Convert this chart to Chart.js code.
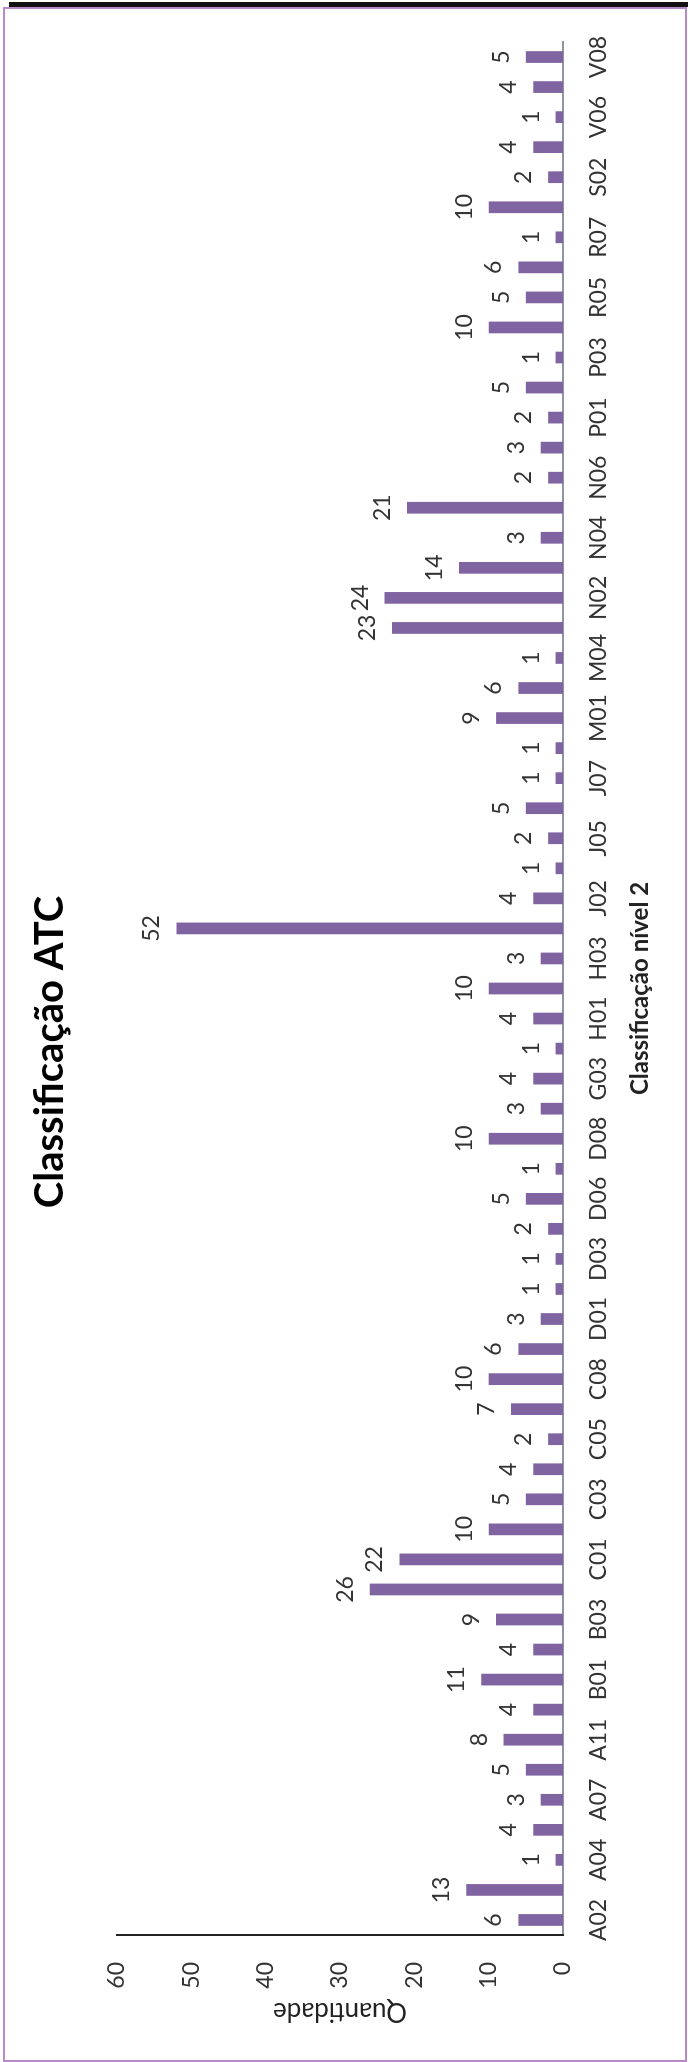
<!DOCTYPE html>
<html>
<head>
<meta charset="utf-8">
<script src="https://cdn.jsdelivr.net/npm/chart.js@4.4.1/dist/chart.umd.min.js"></script>
<style>
  html, body { margin: 0; padding: 0; background: #fff; }
  body { width: 688px; height: 2062px; position: relative; overflow: hidden; }
  #rot { position: absolute; left: 0; top: 0; width: 2062px; height: 688px;
         transform-origin: 0 0; transform: translate(0px, 2062px) rotate(-90deg); }
  #frame { position: absolute; left: 3px; top: 7px; width: 680px; height: 2051px;
           border: 2px solid #b98ac9; box-sizing: content-box; pointer-events: none; }
  #topbar { position: absolute; left: 9px; top: 2px; width: 679px; height: 5px; background: #111; }
</style>
</head>
<body>
<div id="rot"><canvas id="c" width="2062" height="688"></canvas></div>
<div id="frame"></div>
<div id="topbar"></div>
<script>
const categories = ["A02","A03","A04","A06","A07","A10","A11","A12","B01","B02","B03","B05",
  "C01","C02","C03","C04","C05","C07","C08","C09","D01","D02","D03","D05","D06","D07","D08","D10",
  "G03","G04","H01","H02","H03","J01","J02","J04","J05","J06","J07","L04","M01","M03","M04",
  "N01","N02","N03","N04","N05","N06","N07","P01","P02","P03","R03","R05","R06","R07",
  "S01","S02","S03","V06","V07","V08"];
const quantidade = [6,13,1,4,3,5,8,4,11,4,9,26,22,10,5,4,2,7,10,6,3,1,1,2,5,1,10,3,4,1,4,10,3,52,4,1,2,5,1,1,9,6,1,23,24,14,3,21,2,3,2,5,1,10,5,6,1,10,2,4,1,4,5];
const valueTicks = [0,10,20,30,40,50,60];
const titleText = "Classificação ATC";
const xTitle = "Classificação nível 2";
const yTitle = "Quantidade";

const FONT = "Lato, 'Open Sans', sans-serif";

const valueLabels = {
  id: 'valueLabels',
  afterDatasetsDraw(chart) {
    const ctx = chart.ctx;
    const meta = chart.getDatasetMeta(0);
    ctx.save();
    ctx.font = "23px " + FONT;
    ctx.fillStyle = "#333";
    ctx.textAlign = "center";
    ctx.textBaseline = "alphabetic";
    meta.data.forEach((bar, i) => {
      ctx.fillText(String(chart.data.datasets[0].data[i]), bar.x, bar.y - 17);
    });
    ctx.restore();
  }
};

new Chart(document.getElementById('c'), {
  type: 'bar',
  data: {
    labels: categories,
    datasets: [{
      label: yTitle,
      data: quantidade,
      backgroundColor: '#8064A2',
      borderWidth: 0,
      categoryPercentage: 1.0,
      barPercentage: 0.39
    }]
  },
  options: {
    responsive: false,
    animation: false,
    devicePixelRatio: 1,
    layout: { padding: { left: 0, right: 42, top: 0, bottom: 0 } },
    plugins: {
      legend: { display: false },
      tooltip: { enabled: false },
      title: {
        display: true,
        text: titleText,
        color: '#000',
        font: { family: FONT, size: 40, weight: 'bold' },
        padding: { top: 26, bottom: 43 }
      }
    },
    scales: {
      x: {
        grid: { display: false, drawTicks: false },
        border: { display: true, color: '#8e95a8', width: 2 },
        ticks: {
          autoSkip: false, maxRotation: 0, minRotation: 0,
          color: '#333', padding: 22,
          font: { family: FONT, size: 23 },
          callback: function(v, i) { return i % 2 === 0 ? categories[i] : ''; }
        },
        title: {
          display: true, text: xTitle, color: '#222',
          font: { family: FONT, size: 24, weight: 'bold' },
          padding: { top: 0, bottom: 33 }
        },
        afterFit: function(scale) { scale.height = 125; }
      },
      y: {
        min: 0, max: 60,
        grid: { display: false, drawTicks: false },
        border: { display: true, color: '#222', width: 2 },
        afterBuildTicks: function(scale) { scale.ticks = valueTicks.map(v => ({ value: v })); },
        ticks: {
          color: '#333', padding: 27,
          font: { family: FONT, size: 23 }
        },
        title: {
          display: true, text: yTitle, color: '#222',
          font: { family: FONT, size: 26 },
          padding: { top: 35, bottom: 0 }
        },
        afterFit: function(scale) { scale.width = 127; }
      }
    }
  },
  plugins: [valueLabels]
});
</script>
</body>
</html>
